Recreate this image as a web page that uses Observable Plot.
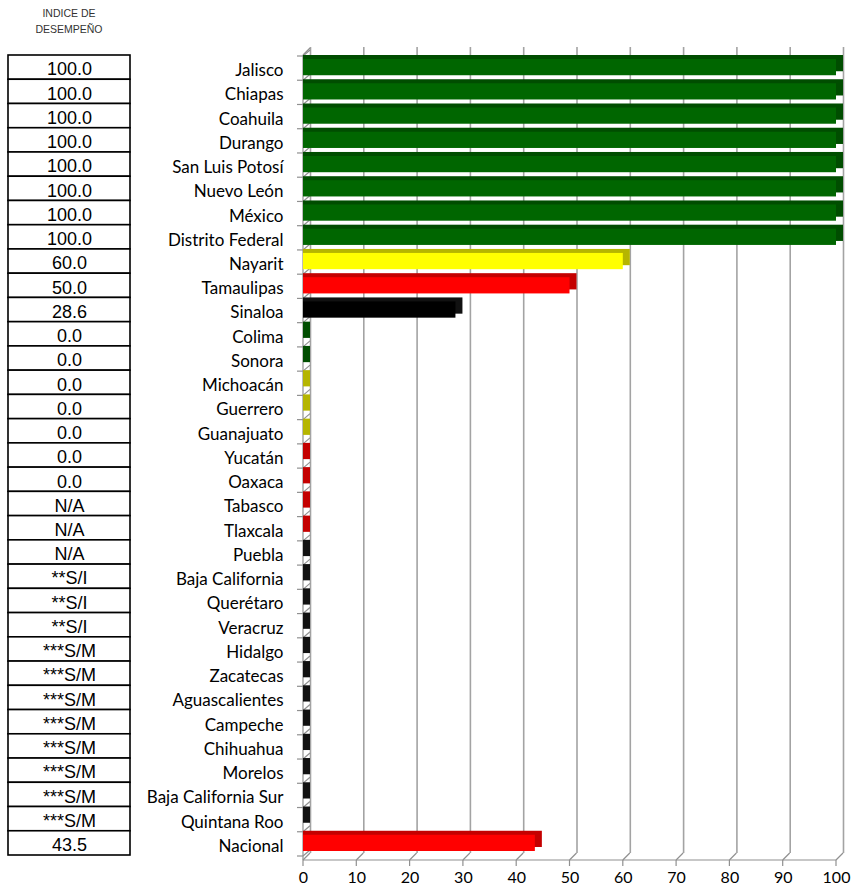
<!DOCTYPE html>
<html><head><meta charset="utf-8">
<script src="https://cdn.jsdelivr.net/npm/d3@7"></script>
<script src="https://cdn.jsdelivr.net/npm/@observablehq/plot@0.6"></script>
<style>
body{margin:0;background:#fff;}
#wrap{position:relative;width:852px;height:893px;overflow:hidden;}
#hdr{position:absolute;left:8px;width:122px;top:6px;text-align:center;font:10.5px "Liberation Sans",Arial,sans-serif;color:#333;line-height:15.5px;}
#wrap svg{position:absolute;left:0;top:0;}
</style></head><body>
<div id="wrap"><div id="hdr">INDICE DE<br>DESEMPEÑO</div></div>
<script>
const states = ["Jalisco","Chiapas","Coahuila","Durango","San Luis Potosí","Nuevo León","México","Distrito Federal","Nayarit","Tamaulipas","Sinaloa","Colima","Sonora","Michoacán","Guerrero","Guanajuato","Yucatán","Oaxaca","Tabasco","Tlaxcala","Puebla","Baja California","Querétaro","Veracruz","Hidalgo","Zacatecas","Aguascalientes","Campeche","Chihuahua","Morelos","Baja California Sur","Quintana Roo","Nacional"];
const values = [100,100,100,100,100,100,100,100,60,50,28.6,0,0,0,0,0,0,0,0,0,0,0,0,0,0,0,0,0,0,0,0,0,43.5];
const tableLabels = ["100.0","100.0","100.0","100.0","100.0","100.0","100.0","100.0","60.0","50.0","28.6","0.0","0.0","0.0","0.0","0.0","0.0","0.0","N/A","N/A","N/A","**S/I","**S/I","**S/I","***S/M","***S/M","***S/M","***S/M","***S/M","***S/M","***S/M","***S/M","43.5"];
const colorGroup = ["verde","verde","verde","verde","verde","verde","verde","verde","amarillo","rojo","negro","verde","verde","amarillo","amarillo","amarillo","rojo","rojo","rojo","rojo","negro","negro","negro","negro","negro","negro","negro","negro","negro","negro","negro","negro","rojo"];
const xTicks = [0,10,20,30,40,50,60,70,80,90,100];
const groups = ["verde","amarillo","rojo","negro"];
const frontColor = {verde:"#006600", amarillo:"#ffff00", rojo:"#ff0000", negro:"#000000"};
const sideColor = {verde:"#004d00", amarillo:"#b5b500", rojo:"#c40000", negro:"#111111"};

const data = states.map((s,i)=>({state:s, value:values[i], label:tableLabels[i], group:colorGroup[i]}));

const W=852, H=893, mTop=55, mBottom=38, mLeft=303, mRight=16;
const DX=7, DY=7;

const walls = (index, scales, vals, dims) => {
  const x = scales.x, y = scales.y;
  const top = dims.marginTop, bottom = dims.height - dims.marginBottom;
  const g = d3.create("svg:g").attr("fill","none").attr("stroke","#909090").attr("stroke-width",1.2);
  const x0 = x(0), x1 = x(100);
  const line = (a,b,c,d) => g.append("line").attr("x1",a).attr("y1",b).attr("x2",c).attr("y2",d);
  line(x0, top, x0, bottom+5);
  line(x0, top, x0+DX, top-DY);
  const bounds = states.map(s => y(s)).concat([bottom]);
  for (const yb of bounds) {
    line(x0-6, yb+1, x0, yb+1);
    line(x0, yb+1, x0+DX, yb-5);
  }
  line(x0, bottom+5, x1, bottom+5);
  for (const t of xTicks) {
    line(x(t)+DX, bottom-2, x(t), bottom+5);
    line(x(t), bottom+5, x(t), bottom+11);
  }
  return g.node();
};

const marks = [
  Plot.ruleX(xTicks, {x: d=>d, dx: DX, insetTop: -8, insetBottom: 2, stroke: "#a3a3a3", strokeWidth: 1.6}),
  walls
];
for (const g of groups) {
  const sub = data.filter(d => d.group === g);
  marks.push(Plot.barX(sub, {y: "state", x1: 0, x2: "value", insetTop: 4, insetBottom: 4, insetRight: -DX, dy: -4, fill: sideColor[g]}));
}
for (const g of groups) {
  const sub = data.filter(d => d.group === g);
  marks.push(Plot.barX(sub, {y: "state", x1: 0, x2: "value", insetTop: 4, insetBottom: 4, fill: frontColor[g]}));
}
marks.push(
  Plot.text(data, {y: "state", text: "state", frameAnchor: "left", dx: -20, dy: 3, textAnchor: "end", fontSize: 17, fontFamily: "Lato", fill: "#000"}),
  Plot.cell(data, {y: "state", insetLeft: -(mLeft-8), insetRight: (W-mRight-130), fill: "white", stroke: "#000", strokeWidth: 1.6}),
  Plot.text(data, {y: "state", text: "label", frameAnchor: "left", dx: 69-mLeft, dy: 2, textAnchor: "middle", fontSize: 18, fontFamily: "Liberation Sans", fill: "#000"}),
  Plot.text(xTicks, {x: d=>d, text: d=>String(d), frameAnchor: "bottom", lineAnchor: "middle", dy: 22, fontSize: 16, fontFamily: "Lato", fill: "#000"})
);

const chart = Plot.plot({
  width: W, height: H,
  marginTop: mTop, marginBottom: mBottom, marginLeft: mLeft, marginRight: mRight,
  x: {domain: [0,100], axis: null},
  y: {domain: states, padding: 0, round: false, axis: null},
  style: {background: "transparent", fontFamily: "Lato"},
  marks
});
document.getElementById("wrap").appendChild(chart);
</script>
</body></html>
